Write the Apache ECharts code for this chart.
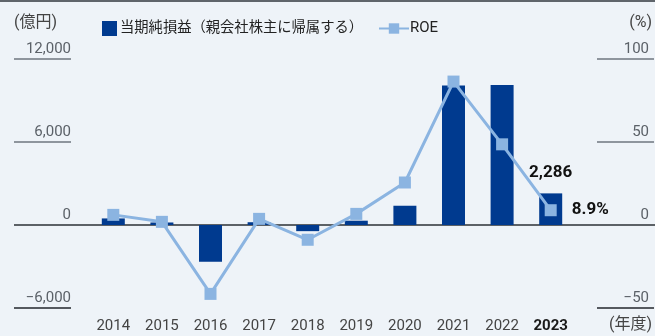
<!DOCTYPE html>
<html>
<head>
<meta charset="utf-8">
<script src="https://cdn.jsdelivr.net/npm/echarts@6/dist/echarts.min.js"></script>
<style>
  html, body { margin: 0; padding: 0; background: #eef3f8; }
  #chart { width: 655px; height: 336px; }
</style>
</head>
<body>
<div id="chart"></div>
<script>
// Fiscal years and results
const years = ['2014', '2015', '2016', '2017', '2018', '2019', '2020', '2021', '2022', '2023'];
const netIncome = [475, 182, -2657, 201, -445, 311, 1392, 10091, 10125, 2286]; // 億円
const roe = [6.1, 1.9, -41.5, 3.7, -8.9, 6.7, 25.6, 86.4, 48.6, 8.9];           // %
const leftTicks = [-6000, 0, 6000, 12000];
const rightTicks = [-50, 0, 50, 100];

const FONT = "Roboto, 'Noto Sans CJK JP', sans-serif";
const BAR = '#003a8f';
const LINE = '#8bb4e1';
const last = years.length - 1;

const fmt = v => v.toLocaleString('en-US').replace('-', '\u2212');

const chart = echarts.init(document.getElementById('chart'), null, { renderer: 'canvas' });

const baseLeft = {
  type: 'value', position: 'left', offset: 18,
  min: leftTicks[0], max: leftTicks[leftTicks.length - 1], interval: leftTicks[1] - leftTicks[0],
  axisLine: { show: false }, splitLine: { show: false }
};
const baseRight = {
  type: 'value', position: 'right', offset: 22,
  min: rightTicks[0], max: rightTicks[rightTicks.length - 1], interval: rightTicks[1] - rightTicks[0],
  axisLine: { show: false }, splitLine: { show: false }
};
const labelStyle = { color: '#5b6168', fontSize: 15, fontFamily: FONT, verticalAlign: 'bottom', padding: [0, 0, 2, 0] };

chart.setOption({
  backgroundColor: '#eef3f8',
  animation: false,
  grid: { left: 89, right: 80, top: 59, bottom: 28 },
  legend: [
    {
      left: 97, top: 16, itemWidth: 15, itemHeight: 15, itemGap: 20,
      data: [{ name: '当期純損益（親会社株主に帰属する）', icon: 'rect' }],
      textStyle: { color: '#222', fontSize: 14.3, fontFamily: FONT, padding: [0, 0, 0, -2] }
    },
    {
      left: 373, top: 16, itemWidth: 30, itemHeight: 13,
      data: ['ROE'],
      textStyle: { color: '#222', fontSize: 15, fontFamily: FONT, padding: [0, 0, 0, -4] }
    }
  ],
  xAxis: {
    type: 'category', data: years,
    axisLine: { show: false }, axisTick: { show: false },
    axisLabel: {
      interval: 0, margin: 11, fontSize: 15, color: '#444', fontFamily: FONT,
      formatter: (v, i) => i === last ? '{b|' + v + '}' : v,
      rich: { b: { fontWeight: 'bold', color: '#1a1a1a', fontSize: 15, fontFamily: FONT } }
    }
  },
  yAxis: [
    Object.assign({}, baseLeft, {
      axisTick: { show: true, length: 57, customValues: [6000, 12000], lineStyle: { color: '#6f777f', width: 1.5 } },
      axisLabel: Object.assign({ margin: 0, align: 'right', formatter: fmt }, labelStyle)
    }),
    Object.assign({}, baseRight, {
      axisTick: { show: true, length: 57, customValues: [50, 100], lineStyle: { color: '#6f777f', width: 1.5 } },
      axisLabel: Object.assign({ margin: 52, align: 'right', formatter: fmt }, labelStyle)
    }),
    Object.assign({}, baseLeft, {
      axisTick: { show: true, length: 57, customValues: [-6000], lineStyle: { color: '#23272c', width: 1.5 } },
      axisLabel: { show: false }
    }),
    Object.assign({}, baseRight, {
      axisTick: { show: true, length: 57, customValues: [-50], lineStyle: { color: '#23272c', width: 1.5 } },
      axisLabel: { show: false }
    })
  ],
  series: [
    {
      name: '当期純損益（親会社株主に帰属する）', type: 'bar', yAxisIndex: 0,
      barWidth: 23, itemStyle: { color: BAR },
      data: netIncome.map((v, i) => i === last ? {
        value: v,
        label: { show: true, position: 'top', distance: 12, formatter: p => fmt(p.value),
                 fontSize: 17, fontWeight: 'bold', color: '#111', fontFamily: FONT }
      } : v),
      z: 2
    },
    {
      name: 'ROE', type: 'line', yAxisIndex: 1,
      symbol: 'rect', symbolSize: 12, showAllSymbol: true,
      lineStyle: { color: LINE, width: 3 }, itemStyle: { color: LINE },
      data: roe.map((v, i) => i === last ? {
        value: v,
        label: { show: true, position: 'right', distance: 15, formatter: p => p.value + '%',
                 fontSize: 17, fontWeight: 'bold', color: '#111', fontFamily: FONT }
      } : v),
      z: 3
    }
  ]
});

// Full-width zero baseline, top rule and unit captions
const zeroY = chart.convertToPixel({ yAxisIndex: 0 }, 0);
chart.setOption({
  graphic: [
    { type: 'line', shape: { x1: 14, y1: zeroY, x2: 655, y2: zeroY }, style: { stroke: '#2b3036', lineWidth: 1.5 }, z: 1 },
    { type: 'line', shape: { x1: 0, y1: 1, x2: 655, y2: 1 }, style: { stroke: '#5f656b', lineWidth: 2 } },
    { type: 'text', left: 14, top: 15, style: { text: '(億円)', fill: '#444', font: '16px ' + FONT } },
    { type: 'text', right: 3, top: 15, style: { text: '(%)', fill: '#444', font: '16px ' + FONT } },
    { type: 'text', right: 3, top: 317, style: { text: '(年度)', fill: '#444', font: '16px ' + FONT } }
  ]
});
</script>
</body>
</html>
